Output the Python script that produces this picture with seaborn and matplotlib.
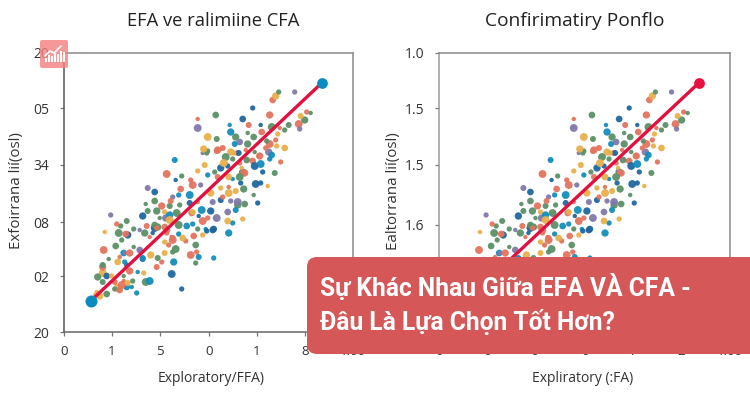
"""
Two side by side scatter panels (EFA / CFA) with a fit line, a small icon and a red banner on top.
"""

import matplotlib
matplotlib.use("Agg")
import matplotlib.pyplot as plt
from matplotlib.patches import FancyBboxPatch
import seaborn as sns
import pandas as pd

# Values, axes run 0-289 and 0-279
green_x = [215, 152, 247, 241, 225, 221, 208, 203, 190, 184, 172, 153, 144, 162, 169, 183, 191, 184, 211, 151, 176, 118, 91, 82, 93, 84, 70, 115, 134, 181, 190, 180, 106, 116, 113, 143, 91, 96, 174, 63, 57, 55, 58, 52, 70, 81, 94, 109, 112, 132, 132, 45, 34, 39, 69, 82, 51, 43, 60, 94, 39]
green_y = [240, 217, 219, 212, 207, 202, 205, 191, 195, 199, 195, 193, 181, 175, 173, 172, 180, 188, 159, 160, 155, 156, 131, 128, 121, 121, 103, 107, 103, 128, 137, 143, 126, 127, 119, 179, 107, 114, 127, 111, 106, 99, 92, 86, 85, 99, 74, 80, 83, 69, 87, 73, 55, 50, 51, 50, 43, 38, 56, 105, 67]
purple_x = [231, 134, 236, 176, 139, 205, 84, 109, 153, 167, 164, 76, 102, 149, 137, 174, 47, 76, 61]
purple_y = [240, 204, 203, 190, 179, 180, 144, 135, 114, 131, 120, 102, 114, 130, 147, 130, 117, 82, 79]
yellow_x = [212, 237, 214, 144, 213, 221, 195, 167, 141, 134, 160, 170, 165, 178, 140, 172, 157, 165, 179, 164, 204, 147, 129, 101, 106, 139, 119, 41, 87, 101, 80, 39, 48, 54, 33, 36, 64, 101, 54, 32]
yellow_y = [236, 216, 198, 195, 186, 184, 176, 180, 167, 161, 169, 179, 155, 164, 183, 141, 144, 139, 113, 111, 146, 139, 120, 120, 112, 97, 94, 100, 77, 79, 59, 59, 56, 70, 40, 36, 49, 90, 44, 37]
coral_x = [209, 134, 206, 185, 243, 235, 212, 198, 216, 154, 159, 202, 206, 217, 189, 182, 181, 154, 176, 103, 127, 117, 165, 98, 107, 144, 139, 93, 101, 108, 103, 109, 179, 129, 159, 128, 134, 196, 153, 173, 40, 53, 62, 56, 39, 93, 98, 127, 133, 56, 60, 66, 83, 103, 109, 122, 130, 86, 66, 51, 105, 58]
coral_y = [232, 213, 217, 207, 220, 208, 192, 200, 204, 182, 184, 184, 188, 170, 171, 182, 159, 155, 169, 158, 152, 143, 145, 126, 131, 114, 111, 104, 105, 95, 102, 94, 160, 147, 135, 119, 130, 176, 181, 179, 82, 108, 98, 75, 65, 65, 70, 77, 80, 42, 51, 79, 106, 99, 92, 91, 96, 95, 61, 50, 87, 47]
navy_x = [189, 179, 197, 157, 175, 199, 191, 164, 91, 112, 79, 157, 194, 192, 197, 150, 135, 147, 126, 177, 108, 118, 43, 89, 64, 79, 63, 91, 143, 149]
navy_y = [224, 213, 207, 164, 179, 160, 166, 166, 140, 152, 116, 132, 129, 148, 149, 103, 116, 121, 129, 149, 58, 43, 56, 99, 97, 73, 67, 104, 101, 102]
blue_x = [166, 167, 171, 144, 197, 206, 208, 169, 179, 111, 115, 138, 129, 123, 142, 165, 172, 169, 126, 115, 60, 74, 110, 135, 150, 86, 73, 63, 68, 106, 79, 61]
blue_y = [207, 200, 188, 157, 168, 173, 177, 153, 160, 172, 98, 122, 108, 106, 103, 99, 122, 109, 137, 137, 79, 60, 70, 75, 74, 51, 39, 45, 45, 117, 74, 70]

# Ends of the fit line
line_x = [27, 258]
line_y = [31, 249]

# Ticks and labels, the right panel's lower y ticks sit behind the banner
y_ticks_left = [0, 56, 110, 167, 224, 279]
y_labels_left = ["20", "02", "08", "34", "05", "20"]
y_ticks_right = [107, 167, 224, 279]
y_labels_right = ["1.6", "1.5", "1.5", "1.0"]
x_ticks = [0, 48, 96, 145, 193, 241, 289]
x_labels_left = ["0", "1", "5", "0", "1", "8", "1.00"]
x_labels_right = ["0", "6", "9", "0", "7", "2", "1.00"]

icon_bars = [4, 7, 6, 9, 8, 11, 10]

groups = {
    "green": (green_x, green_y, "#5b9167"),
    "purple": (purple_x, purple_y, "#8079ab"),
    "yellow": (yellow_x, yellow_y, "#e8b04a"),
    "coral": (coral_x, coral_y, "#e3745f"),
    "navy": (navy_x, navy_y, "#1f689f"),
    "blue": (blue_x, blue_y, "#148dbb"),
}

# Build one long table, the dot sizes only repeat a short pattern
frames = []
for name, (xs, ys, _) in groups.items():
    frames.append(pd.DataFrame({"x": xs, "y": ys, "group": name}))
df = pd.concat(frames, ignore_index=True)
df["dot"] = [[2, 4, 1, 5, 3, 2, 6][i % 7] for i in range(len(df))]
df = df.sample(frac=1, random_state=3)
palette = {name: g[2] for name, g in groups.items()}

sns.set_theme(style="white")
plt.rcParams["font.family"] = ["Open Sans", "DejaVu Sans"]

fig = plt.figure(figsize=(7.5, 3.94), dpi=100)
W, H = 750, 394


def draw_panel(left, width, end_color, y_ticks, y_labels, x_labels, title, title_size, xlabel, ylabel, left_color, title_x, xlabel_x, ylabel_x):
    ax = fig.add_axes([left / W, (H - 332) / H, width / W, 279 / H])
    sns.scatterplot(data=df, x="x", y="y", hue="group", palette=palette, size="dot",
                    sizes=(10, 32), linewidth=0, alpha=0.95, legend=False, ax=ax, clip_on=False)
    sns.lineplot(x=line_x, y=line_y, color="#e2103f", linewidth=2.4, ax=ax, zorder=5)
    sns.scatterplot(x=[line_x[1]], y=[line_y[1]], color=end_color, s=60, linewidth=0, ax=ax, zorder=6, clip_on=False)
    sns.scatterplot(x=[line_x[0]], y=[line_y[0]], color=end_color, s=75, linewidth=0, ax=ax, zorder=6, clip_on=False)
    ax.set_xlim(0, 289)
    ax.set_ylim(0, 279)
    ax.set_xticks(x_ticks)
    ax.set_xticklabels(x_labels, fontsize=9.5, color="#333333")
    ax.set_yticks(y_ticks)
    ax.set_yticklabels(y_labels, fontsize=10, color="#333333")
    ax.tick_params(axis="x", length=3, width=0.9, color="#777777", pad=6.5, bottom=True)
    ax.tick_params(axis="y", length=3, width=0.9, color="#777777", pad=7.5, left=True)
    ax.set_xlabel("")
    ax.set_ylabel("")
    for side in ["top", "right"]:
        ax.spines[side].set_color("#8a8a8a")
        ax.spines[side].set_linewidth(1.1)
    ax.spines["left"].set_color(left_color)
    ax.spines["bottom"].set_color("#666666")
    ax.spines["left"].set_linewidth(1.1)
    ax.spines["bottom"].set_linewidth(1.1)
    fig.text(title_x / W, 1 - 21 / H, title, fontsize=title_size, ha="center", va="center", color="#222222")
    fig.text(xlabel_x / W, 1 - 378 / H, xlabel, fontsize=10, ha="center", va="center", color="#333333")
    fig.text(ylabel_x / W, 1 - 191 / H, ylabel, fontsize=10.8, rotation=90, ha="center", va="center", color="#333333")
    return ax


draw_panel(63.7, 289, "#0b8cc0", y_ticks_left, y_labels_left, x_labels_left,
           "EFA ve ralimiine CFA", 13.2, "Exploratory/FFA)", "Exfoirrana lií(osl)", "#555555", 213, 211, 17)
draw_panel(438.7, 291.3, "#e8103f", y_ticks_right, y_labels_right, x_labels_right,
           "Confirimatiry Ponflo", 13.8, "Expliratory (:FA)", "Ealtorrana lií(osl)", "#9a9a9a", 575, 583, 393)

# Overlay in pixel units for the banner and the icon
over = fig.add_axes([0, 0, 1, 1], zorder=20)
over.set_xlim(0, W)
over.set_ylim(H, 0)
over.axis("off")
over.patch.set_alpha(0)

over.add_patch(FancyBboxPatch((307, 257), 470, 97, boxstyle="round,pad=0,rounding_size=10",
                              fc="#d65757", ec="none"))
over.text(320, 287, "Sự Khác Nhau Giữa EFA VÀ CFA -", family="Roboto", fontsize=17.7, fontweight="bold",
          color="white", va="center", ha="left")
over.text(320, 322, "Đâu Là Lựa Chọn Tốt Hơn?", family="Roboto", fontsize=17.7, fontweight="bold",
          color="white", va="center", ha="left")

over.add_patch(FancyBboxPatch((40, 40), 28, 28, boxstyle="round,pad=0,rounding_size=2", fc="#f47f7f", ec="none", alpha=0.8))
over.bar([46 + 3 * i for i in range(len(icon_bars))], icon_bars, width=1.6, bottom=[62 - b for b in icon_bars],
         color="white", linewidth=0)
over.plot([45, 50, 54, 61], [56, 51, 53, 46], color="white", lw=1.2)

fig.savefig("out.png", dpi=100)
